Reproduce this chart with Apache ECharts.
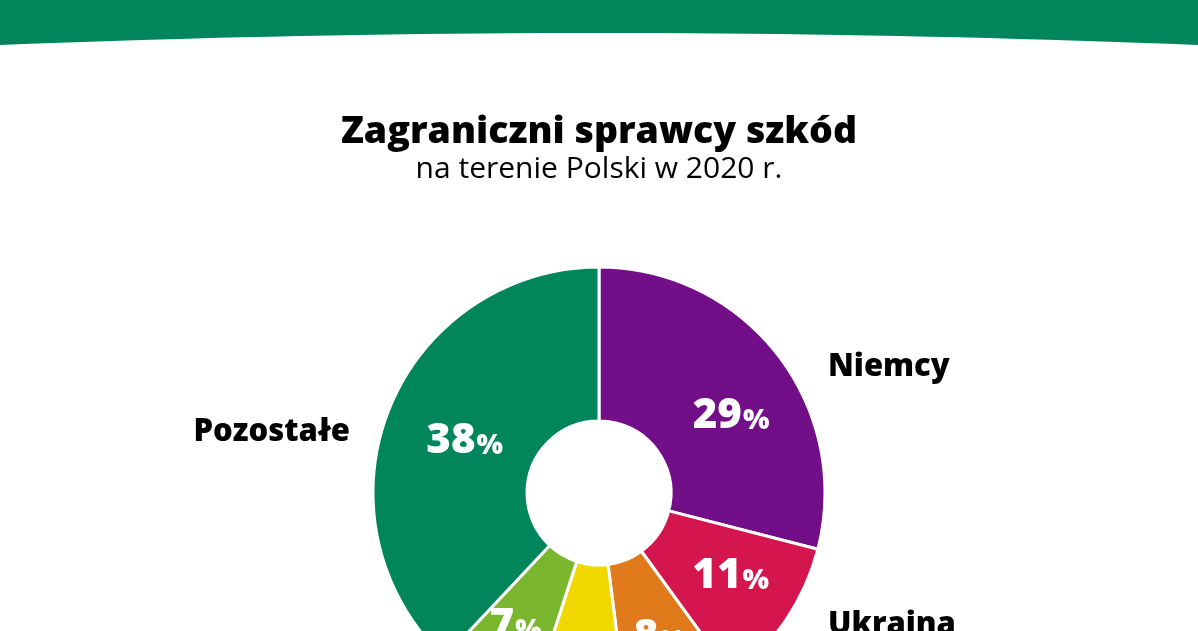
<!DOCTYPE html>
<html><head><meta charset="utf-8">
<script src="https://cdn.jsdelivr.net/npm/echarts@6/dist/echarts.min.js"></script>
<style>html,body{margin:0;padding:0;background:#fff}#c{width:1198px;height:631px}</style>
</head><body><div id="c"></div>
<script>
const categories = ['Niemcy', 'Ukraina', 'Litwa', 'Białoruś', 'Czechy', 'Pozostałe'];
const values = [29, 11, 8, 7, 7, 38];
const colors = ['#720E87', '#D4154E', '#E07A1B', '#F0D800', '#7AB72E', '#00865A'];
const showName = [true, true, false, false, false, true];
const title = 'Zagraniczni sprawcy szkód';
const subtitle = 'na terenie Polski w 2020 r.';

const chart = echarts.init(document.getElementById('c'), null, {renderer: 'canvas'});
const FONT = '"Open Sans", sans-serif';
// small manual nudges of the inside labels (as in the original layout)
const insideNudge = [[12, 16], [6, -2], [5, 3], [0, 14], [-6, 2], [7, 4]];
const namePos = {0: [828, 367, 'left'], 1: [828, 625, 'left'], 5: [350, 432, 'right']};

// decorative curved header band
const band = [[0, 0], [1198, 0]];
for (let k = 0; k <= 40; k++) {
  const t = 1 - k / 40;
  const x = 1198 * t;
  const y = (1 - t) * (1 - t) * 45 + 2 * t * (1 - t) * 21 + t * t * 45;
  band.push([x, y]);
}

chart.setOption({
  animation: false,
  graphic: [{
    type: 'polygon', silent: true,
    shape: {points: band},
    style: {fill: '#00865A'}
  }],
  title: {
    text: title, subtext: subtitle, left: 'center', top: 108, itemGap: 3,
    textStyle: {fontFamily: FONT, fontWeight: 800, fontSize: 37.5, color: '#000'},
    subtextStyle: {fontFamily: FONT, fontWeight: 400, fontSize: 30, color: '#000'}
  },
  series: [{
    type: 'pie', center: [599, 493], radius: [72, 226], startAngle: 90, clockwise: true,
    silent: true,
    itemStyle: {borderColor: '#fff', borderWidth: 3},
    label: {
      position: 'inside', color: '#fff',
      formatter: p => '{n|' + p.value + '}{p|%}',
      rich: {
        n: {fontFamily: FONT, fontWeight: 800, fontSize: 42, color: '#fff'},
        p: {fontFamily: FONT, fontWeight: 800, fontSize: 28, color: '#fff', padding: [10, 0, 0, 1]}
      }
    },
    labelLine: {show: false},
    labelLayout: p => ({dx: insideNudge[p.dataIndex][0], dy: insideNudge[p.dataIndex][1]}),
    data: categories.map((n, i) => ({name: n, value: values[i], itemStyle: {color: colors[i]}}))
  }, {
    type: 'pie', center: [599, 493], radius: [72, 226], startAngle: 90, clockwise: true,
    silent: true,
    itemStyle: {color: 'transparent', borderWidth: 0},
    label: {
      show: true, position: 'outside', color: '#000',
      fontFamily: FONT, fontWeight: 800, fontSize: 31,
      formatter: p => showName[p.dataIndex] ? p.name : ''
    },
    labelLine: {show: false},
    labelLayout: p => {
      const q = namePos[p.dataIndex];
      return q ? {x: q[0], y: q[1], align: q[2], verticalAlign: 'middle'} : {};
    },
    data: categories.map((n, i) => ({name: n, value: values[i]}))
  }]
});
</script></body></html>
